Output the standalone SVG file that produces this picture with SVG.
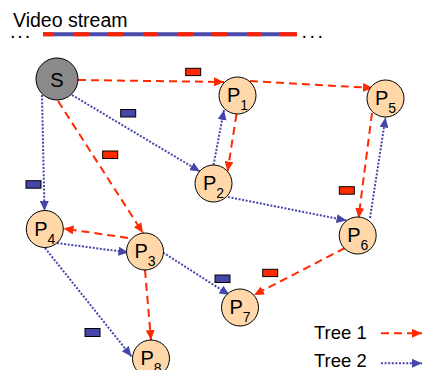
<svg xmlns="http://www.w3.org/2000/svg" width="422" height="370" viewBox="0 0 422 370">
<style>
  .t1 { fill: none; stroke: #ff2a00; stroke-width: 2; stroke-dasharray: 8 5; marker-end: url(#ar); }
  .t2 { fill: none; stroke: #4646aa; stroke-width: 2; stroke-dasharray: 2 1.6; marker-end: url(#ab); }
  .node { fill: #ffd7a8; stroke: #000; stroke-width: 1; }
  .src { fill: #8a8a8a; stroke: #000; stroke-width: 1; }
  .lbl { font-family: "Liberation Sans", Arial, sans-serif; font-size: 20px; fill: #000; text-anchor: middle; }
  .sub { font-size: 14px; }
  .txt { font-family: "Liberation Sans", Arial, sans-serif; fill: #000; }
  .pr { fill: #ff2a00; stroke: #000; stroke-width: 1; }
  .pb { fill: #4646aa; stroke: #000; stroke-width: 1; }
</style>
<defs>
  <marker id="ar" markerUnits="userSpaceOnUse" markerWidth="10" markerHeight="9" refX="10" refY="4.5" orient="auto">
    <path d="M0,0 L10,4.5 L0,9 z" fill="#ff2a00"/>
  </marker>
  <marker id="ab" markerUnits="userSpaceOnUse" markerWidth="10" markerHeight="9" refX="10" refY="4.5" orient="auto">
    <path d="M0,0 L10,4.5 L0,9 z" fill="#4646aa"/>
  </marker>
</defs>
<rect width="422" height="370" fill="#fff"/>

<g id="stream">
  <text class="txt" x="13" y="27.3" font-size="19.5">Video stream</text>
  <text class="txt" x="10" y="37.5" font-size="20" letter-spacing="1.8">...</text>
  <text class="txt" x="301.5" y="37.5" font-size="20" letter-spacing="2.4">...</text>
  <line x1="43" y1="34.3" x2="297" y2="34.3" stroke="#4a4aa8" stroke-width="4"/>
  <path d="M43,34.3H54M74,34.3H89M108,34.3H123M143,34.3H158M178,34.3H193M212,34.3H227M247,34.3H262M279,34.3H297" stroke="#ff2200" stroke-width="4"/>
</g>

<g id="connectors">
  <line class="t1" x1="78" y1="80" x2="224" y2="82"/>
  <line class="t1" x1="250" y1="81" x2="373" y2="88"/>
  <line class="t1" x1="236.5" y1="114" x2="227.5" y2="171.5"/>
  <line class="t1" x1="58" y1="101" x2="143" y2="233"/>
  <line class="t1" x1="128" y1="238" x2="63.5" y2="228.5"/>
  <line class="t1" x1="145" y1="270" x2="151" y2="340"/>
  <line class="t1" x1="372" y1="113" x2="358.5" y2="218"/>
  <line class="t1" x1="345" y1="248" x2="254" y2="295"/>

  <line class="t2" x1="42" y1="95" x2="44.5" y2="211"/>
  <line class="t2" x1="72" y1="95" x2="200" y2="171.5"/>
  <line class="t2" x1="213.5" y1="165" x2="224" y2="110"/>
  <line class="t2" x1="228" y1="197" x2="346.5" y2="220.5"/>
  <line class="t2" x1="370" y1="218" x2="385.5" y2="117.5"/>
  <line class="t2" x1="57" y1="243" x2="128.5" y2="252.5"/>
  <line class="t2" x1="45" y1="248" x2="131.5" y2="356.5"/>
  <line class="t2" x1="163" y1="252.5" x2="229.5" y2="295"/>
</g>

<g id="packets">
  <rect class="pr" x="185.7" y="68.3" width="15" height="7.3"/>
  <rect class="pb" x="120.7" y="109.5" width="15" height="7.5"/>
  <rect class="pr" x="102.7" y="151" width="15" height="7.5"/>
  <rect class="pb" x="26" y="180.7" width="15" height="7.5"/>
  <rect class="pr" x="339.3" y="186.7" width="15" height="7.5"/>
  <rect class="pb" x="215" y="275" width="15" height="7.5"/>
  <rect class="pr" x="262.7" y="269.3" width="15" height="7.3"/>
  <rect class="pb" x="85" y="328.5" width="15" height="8"/>
</g>

<g id="S">
  <circle class="src" cx="57" cy="79" r="21"/>
  <text class="lbl" x="57" y="86.5" font-size="21">S</text>
</g>
<g id="P1">
  <circle class="node" cx="237.5" cy="95.5" r="18.5"/>
  <text class="lbl" x="237.5" y="102">P<tspan class="sub" dy="8">1</tspan></text>
</g>
<g id="P5">
  <circle class="node" cx="385.5" cy="98.5" r="18.5"/>
  <text class="lbl" x="385.5" y="105">P<tspan class="sub" dy="8">5</tspan></text>
</g>
<g id="P2">
  <circle class="node" cx="213.5" cy="183.5" r="18.5"/>
  <text class="lbl" x="213.5" y="190">P<tspan class="sub" dy="8">2</tspan></text>
</g>
<g id="P4">
  <circle class="node" cx="44.8" cy="229" r="18.5"/>
  <text class="lbl" x="44.8" y="235.5">P<tspan class="sub" dy="8">4</tspan></text>
</g>
<g id="P6">
  <circle class="node" cx="357.7" cy="235.5" r="18.5"/>
  <text class="lbl" x="357.7" y="242">P<tspan class="sub" dy="8">6</tspan></text>
</g>
<g id="P3">
  <circle class="node" cx="145" cy="251.5" r="18.5"/>
  <text class="lbl" x="145" y="258">P<tspan class="sub" dy="8">3</tspan></text>
</g>
<g id="P7">
  <circle class="node" cx="240" cy="307.5" r="18.5"/>
  <text class="lbl" x="240" y="314">P<tspan class="sub" dy="8">7</tspan></text>
</g>
<g id="P8">
  <circle class="node" cx="151" cy="358.5" r="18.5"/>
  <text class="lbl" x="151" y="365">P<tspan class="sub" dy="8">8</tspan></text>
</g>

<g id="legend">
  <text class="txt" x="314" y="339" font-size="18.5">Tree 1</text>
  <line class="t1" x1="381" y1="333.3" x2="422" y2="333.3"/>
  <text class="txt" x="314" y="366.7" font-size="18.5">Tree 2</text>
  <line class="t2" x1="381" y1="363.3" x2="422" y2="363.3"/>
</g>
</svg>
